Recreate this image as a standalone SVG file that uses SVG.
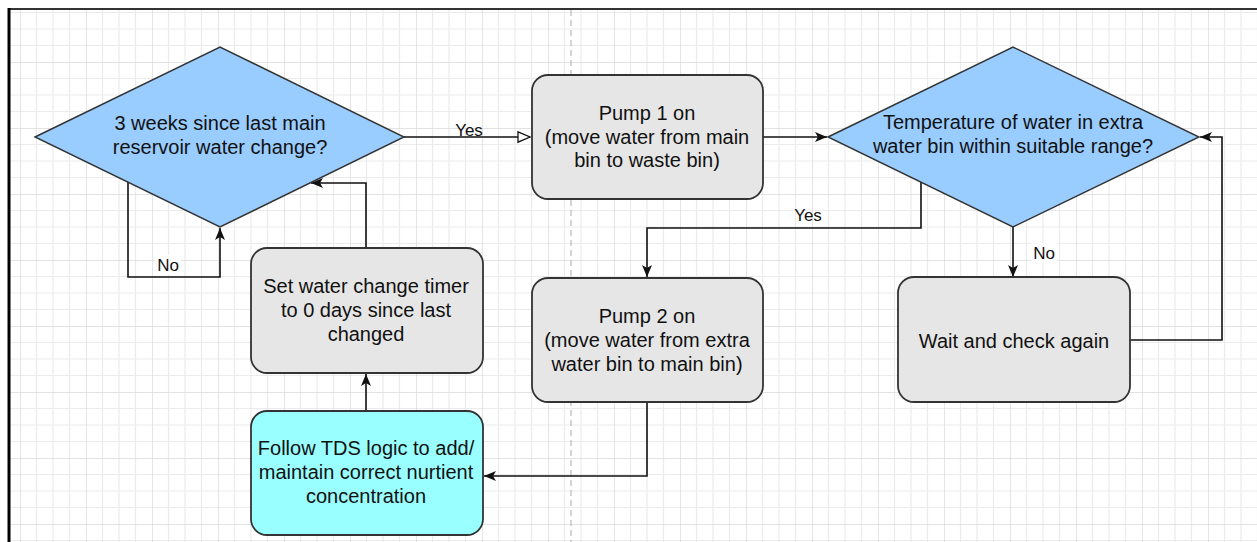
<svg xmlns="http://www.w3.org/2000/svg" width="1257" height="542" viewBox="0 0 1257 542">
<style>
.t{font-family:"Liberation Sans",Arial,sans-serif;font-size:20px;fill:#111;text-anchor:middle}
.l{font-family:"Liberation Sans",Arial,sans-serif;font-size:17px;fill:#111;text-anchor:middle}
.dia{fill:#99CCFF;stroke:#333;stroke-width:1.4}
.box{fill:#E6E6E6;stroke:#333;stroke-width:1.8}
.cyan{fill:#99FFFF;stroke:#333;stroke-width:1.8}
.c{fill:none;stroke:#111;stroke-width:1.6}
</style>
<defs>
<pattern id="grid" patternUnits="userSpaceOnUse" x="20" y="-4" width="66" height="66">
<path d="M16.5 0V66M33 0V66M49.5 0V66M0 16.5H66M0 33H66M0 49.5H66" stroke="#ebebeb" stroke-width="1.2" fill="none"/>
<path d="M0 0V66M0 0H66" stroke="#dadada" stroke-width="1.4" fill="none"/>
</pattern>
<marker id="arr" markerUnits="userSpaceOnUse" markerWidth="13" markerHeight="12" refX="12" refY="5.5" orient="auto" viewBox="0 0 13 11">
<path d="M0,0.5 L12,5.5 L0,10.5 L3,5.5 z" fill="#111"/>
</marker>
<marker id="open" markerUnits="userSpaceOnUse" markerWidth="15" markerHeight="14" refX="13" refY="6" orient="auto" viewBox="0 0 15 12">
<path d="M1,0.8 L13,6 L1,11.2 z" fill="#fff" stroke="#111" stroke-width="1.3"/>
</marker>
</defs>
<rect width="1257" height="542" fill="#fff"/>
<rect x="9" y="9" width="1248" height="533" fill="url(#grid)"/>
<line x1="571" y1="10" x2="571" y2="542" stroke="#aaa" stroke-width="1" stroke-dasharray="6 4"/>
<line x1="8" y1="9" x2="1257" y2="9" stroke="#333" stroke-width="2"/>
<line x1="9" y1="8" x2="9" y2="542" stroke="#000" stroke-width="3"/>

<g id="connectors">
<path class="c" d="M403 137H530" marker-end="url(#open)"/>
<path class="c" d="M763 137H827" marker-end="url(#arr)"/>
<path class="c" d="M921 182V228H647V277" marker-end="url(#arr)"/>
<path class="c" d="M1013 227V277" marker-end="url(#arr)"/>
<path class="c" d="M1130 340H1222V137H1200" marker-end="url(#arr)"/>
<path class="c" d="M647 402V476H484" marker-end="url(#arr)"/>
<path class="c" d="M366 411V374" marker-end="url(#arr)"/>
<path class="c" d="M366 248V183H311" marker-end="url(#arr)"/>
<path class="c" d="M128 182V277H220V228" marker-end="url(#arr)"/>
<text class="l" x="469" y="136">Yes</text>
<text class="l" x="808" y="221">Yes</text>
<rect x="1031" y="243" width="26" height="20" fill="#fff"/>
<text class="l" x="1044" y="259">No</text>
<rect x="155" y="255" width="26" height="20" fill="#fff"/>
<text class="l" x="168" y="271">No</text>
</g>

<g id="d1">
<polygon class="dia" points="35,137 220,47 404,137 220,227"/>
<text class="t" x="220" y="130">3 weeks since last main</text>
<text class="t" x="220" y="154">reservoir water change?</text>
</g>
<g id="pump1">
<rect class="box" x="532" y="75" width="231" height="124" rx="16"/>
<text class="t" x="647" y="120">Pump 1 on</text>
<text class="t" x="647" y="144">(move water from main</text>
<text class="t" x="647" y="167">bin to waste bin)</text>
</g>
<g id="d2">
<polygon class="dia" points="828,137 1013,47 1199,137 1013,227"/>
<text class="t" x="1013" y="129">Temperature of water in extra</text>
<text class="t" x="1013" y="153">water bin within suitable range?</text>
</g>
<g id="wait">
<rect class="box" x="898" y="277" width="232" height="125" rx="16"/>
<text class="t" x="1014" y="348">Wait and check again</text>
</g>
<g id="pump2">
<rect class="box" x="532" y="278" width="231" height="124" rx="16"/>
<text class="t" x="647" y="323">Pump 2 on</text>
<text class="t" x="647" y="347">(move water from extra</text>
<text class="t" x="647" y="371">water bin to main bin)</text>
</g>
<g id="settimer">
<rect class="box" x="251" y="248" width="232" height="125" rx="16"/>
<text class="t" x="366" y="293">Set water change timer</text>
<text class="t" x="366" y="317">to 0 days since last</text>
<text class="t" x="366" y="341">changed</text>
</g>
<g id="tds">
<rect class="cyan" x="251" y="411" width="232" height="124" rx="16"/>
<text class="t" x="366" y="455">Follow TDS logic to add/</text>
<text class="t" x="366" y="479">maintain correct nurtient</text>
<text class="t" x="366" y="503">concentration</text>
</g>
</svg>
